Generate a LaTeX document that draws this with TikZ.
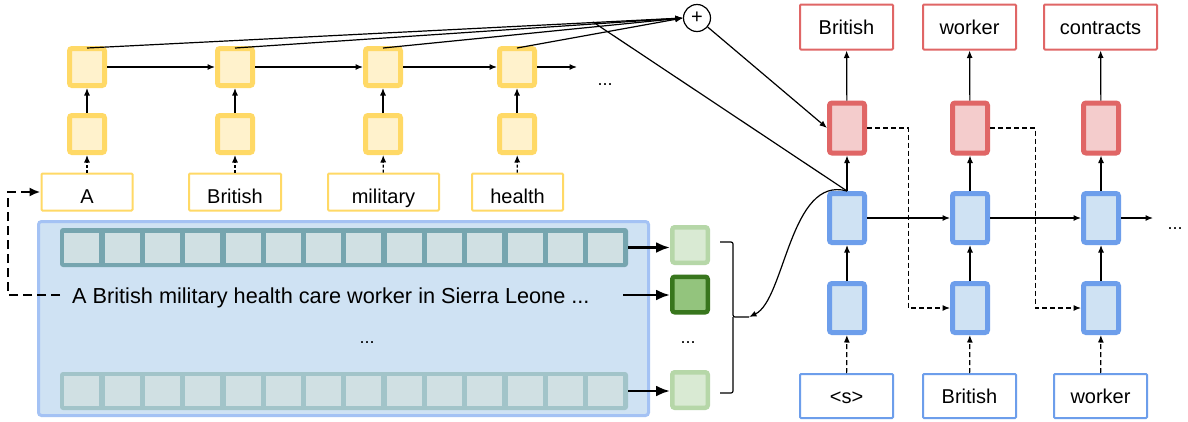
\documentclass[tikz,border=0pt]{standalone}
\usepackage{fontspec}
\setmainfont{Liberation Sans}
\usetikzlibrary{arrows.meta,calc}
\definecolor{yFill}{HTML}{FFF2CC}
\definecolor{yLine}{HTML}{FFD966}
\definecolor{rFill}{HTML}{F4CCCC}
\definecolor{rLine}{HTML}{E06666}
\definecolor{bFill}{HTML}{CFE2F3}
\definecolor{bLine}{HTML}{6D9EEB}
\definecolor{encLine}{HTML}{A4C2F4}
\definecolor{tealA}{HTML}{76A5AF}
\definecolor{tealB}{HTML}{A2C4C9}
\definecolor{cellC}{HTML}{D0E0E3}
\definecolor{gFill}{HTML}{D9EAD3}
\definecolor{gLine}{HTML}{B6D7A8}
\definecolor{gFillD}{HTML}{93C47D}
\definecolor{gLineD}{HTML}{38761D}
\newcommand\labfnt{\fontsize{20}{23}\selectfont}
\begin{document}
\begin{tikzpicture}[x=1pt,y=-1pt,
  cellbox/.style={inner sep=0pt, rounded corners=2.5pt, line width=5pt},
  ybox/.style={cellbox, draw=yLine, fill=yFill, minimum width=35pt, minimum height=37pt},
  bbox/.style={cellbox, draw=bLine, fill=bFill, minimum width=35pt, minimum height=49pt},
  rbox/.style={cellbox, draw=rLine, fill=rFill, minimum width=35pt, minimum height=50pt},
  gbox/.style={cellbox, line width=4.5pt, draw=gLine, fill=gFill, minimum width=35.5pt, minimum height=35.5pt},
  gboxd/.style={gbox, draw=gLineD, fill=gFillD},
  lab/.style={inner sep=0pt, fill=white, line width=2pt, font=\labfnt, rounded corners=1pt, text height=14.3pt, text depth=0pt},
  ylab/.style={lab, draw=yLine, minimum height=37pt, text height=22.3pt},
  blab/.style={lab, draw=bLine, minimum height=44pt, minimum width=93pt},
  rlab/.style={lab, draw=rLine, minimum height=45pt},
  arr/.style={-{Latex[length=7.5pt,width=6pt]}, line width=1.2pt},
  darr/.style={arr, dash pattern=on 3pt off 2pt},
  dlarr/.style={arr, dash pattern=on 5pt off 3pt},
  garr/.style={-{Latex[length=14pt,width=11pt]}, line width=2.6pt},
  fbarr/.style={-{Latex[length=11pt,width=9pt]}, line width=2.2pt, dash pattern=on 9pt off 5pt},
  dots/.style={font=\fontsize{18}{20}\selectfont, inner sep=0pt}
]
\useasboundingbox (0,0) rectangle (1188,421);
\fill[white] (0,0) rectangle (1188,421);

% ---------- encoder (sentence block) ----------
\draw[draw=encLine, fill=bFill, line width=3pt, rounded corners=3pt] (38.5,221.5) rectangle (648.5,415.5);
\node[fill=tealA, rounded corners=3pt, minimum width=568pt, minimum height=39pt, inner sep=0pt] (row1) at (344,247.5) {};
\foreach \i in {0,...,13} \fill[cellC] (64.3+\i*40.3,232.5) rectangle ++(35,30);
\node[fill=tealB, rounded corners=3pt, minimum width=568pt, minimum height=38pt, inner sep=0pt] (row2) at (344,391) {};
\foreach \i in {0,...,13} \fill[cellC] (64.3+\i*40.3,376.3) rectangle ++(35,30);
\node[anchor=base west, inner sep=0pt, font=\fontsize{21.7}{24}\selectfont] (sent) at (72,303) {A British military health care worker in Sierra Leone ...};
\node[dots] (sdots) at (367,343) {...};
\coordinate (sentL) at (60,295);
\coordinate (sentR) at (623,295);

% green summary boxes
\node[gbox] (g1) at (690,245) {};
\node[gboxd] (g2) at (690,294.5) {};
\node[gbox] (g3) at (690,390) {};
\node[dots] (gdots) at (688,343) {...};
\draw[garr] (row1.east) -- (row1.east -| g1.west);
\draw[garr] (sentR) -- (sentR -| g2.west);
\draw[garr] (row2.east) -- (row2.east -| g3.west);

% brace
\coordinate (btip) at (749,317);
\draw[line width=1.2pt, rounded corners=2pt] (720,242) -- (733,242) -- (733,317) -- (btip);
\draw[line width=1.2pt, rounded corners=2pt] (733,317) -- (733,393) -- (720,393);

% ---------- yellow encoder RNN ----------
\node[ylab, minimum width=91pt] (la) at (87,192) {A};
\node[ylab, minimum width=92pt] (lb) at (235,192) {British};
\node[ylab, minimum width=111pt] (lc) at (383.5,192) {military};
\node[ylab, minimum width=91pt] (ld) at (517.5,192) {health};
\foreach \n/\x in {1/87,2/235,3/383,4/517}{
  \node[ybox] (l\n) at (\x,134) {};
  \node[ybox] (u\n) at (\x,67) {};
  \draw[arr] (l\n) -- (u\n);
}
\draw[darr] (la) -- (l1);
\draw[darr] (lb) -- (l2);
\draw[darr] (lc) -- (l3);
\draw[darr] (ld) -- (l4);
\draw[arr] (u1) -- (u2);
\draw[arr] (u2) -- (u3);
\draw[arr] (u3) -- (u4);
\coordinate (ue) at (577,67);
\draw[arr] (u4) -- (ue);
\node[dots] (edots) at (605,85) {...};

% feedback dashed
\coordinate (fb) at (8,250);
\draw[fbarr] (sentL) -| (fb) |- (la.west);

% plus node
\node[draw, circle, line width=1.2pt, minimum size=27pt, inner sep=0pt, font=\fontsize{20}{20}\selectfont] (plus) at (697,18) {+};
\foreach \n in {u1,u2,u3,u4} \draw[arr] ([yshift=-2pt]\n.north) -- (plus.west);

% ---------- decoder ----------
\node[rlab, minimum width=93pt] (o1) at (846.5,27) {British};
\node[rlab, minimum width=93pt] (o2) at (969.5,27) {worker};
\node[rlab, minimum width=113pt] (o3) at (1100.5,27) {contracts};
\node[blab] (bi1) at (846.5,396) {<s>};
\node[blab] (bi2) at (969.5,396) {British};
\node[blab] (bi3) at (1100.5,396) {worker};
\foreach \n/\x in {1/847,2/970,3/1101}{
  \node[rbox] (r\n) at (\x,128) {};
  \node[bbox] (bu\n) at (\x,218) {};
  \node[bbox] (bl\n) at (\x,308) {};
  \draw[dlarr] (bi\n) -- (bl\n);
  \draw[arr] (bl\n) -- (bu\n);
  \draw[arr] (bu\n) -- (r\n);
  \draw[arr] (r\n) -- (o\n);
}
\draw[arr] (bu1) -- (bu2);
\draw[arr] (bu2) -- (bu3);
\coordinate (de) at (1153,218);
\draw[arr] (bu3) -- (de);
\node[dots] (ddots) at (1175,229) {...};
\draw[dlarr] (r1.east) -| ($(r1.east)!.5!(bl2.west)$) |- (bl2.west);
\draw[dlarr] (r2.east) -| ($(r2.east)!.5!(bl3.west)$) |- (bl3.west);

% attention connections
\coordinate (att) at (593,22);
\draw[line width=1.2pt] (att) -- (bu1.north);
\draw[arr] (plus) -- (r1.west);
\draw[arr] (bu1.north) .. controls (790,175) and (785,300) .. (btip);
\end{tikzpicture}
\end{document}
